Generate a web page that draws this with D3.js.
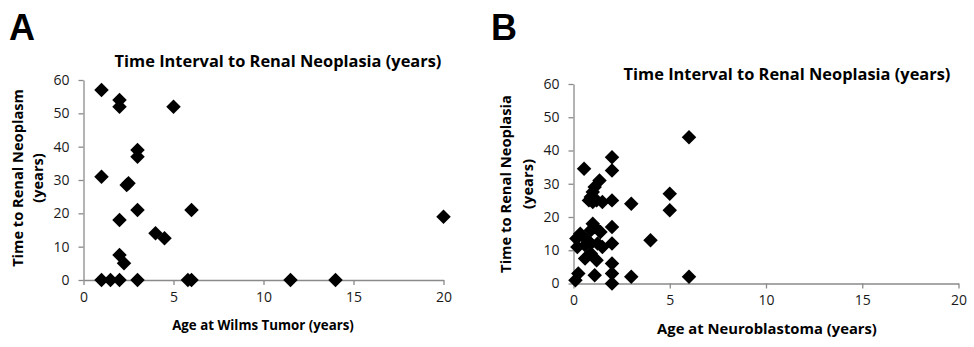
<!DOCTYPE html>
<html><head><meta charset="utf-8">
<script src="https://cdn.jsdelivr.net/npm/d3@7"></script>
<style>
body{margin:0;background:#fff;}
svg{display:block;}
text{font-family:"Open Sans", Lato, sans-serif;}
</style></head>
<body><svg id="c" width="974" height="347"></svg>
<script>
// Panel A: age at Wilms tumor (x) vs time to renal neoplasm (y)
const wilmsAge  = [1, 2, 2, 5, 3, 3, 1, 2.5, 2.4, 3, 6, 20, 2, 4, 4.5, 2, 2.25, 1, 1.5, 2, 3, 5.8, 6, 11.5, 14];
const wilmsTime = [57, 54, 52, 52, 39, 37, 31, 29, 28.5, 21, 21, 19, 18, 14, 12.5, 7.5, 5, 0, 0, 0, 0, 0, 0, 0, 0];
// Panel B: age at neuroblastoma (x) vs time to renal neoplasia (y)
const nbAge  = [0.1, 0.25, 1.1, 2, 2, 3, 6, 0.6, 1.2, 0.9, 2, 0.15, 0.2, 0.6, 0.7, 0.9, 1.25, 1.5, 2, 4, 0.35, 1.4, 1, 1.1, 0.9, 2, 0.8, 1.0, 1.2, 1.5, 2, 3, 0.9, 1.0, 1.1, 1.35, 5, 5, 0.55, 2, 2, 6];
const nbTime = [1, 3, 2.5, 3, 0, 2, 2, 7.5, 7, 9, 6, 13.5, 11, 11.5, 13, 12, 12, 11, 12, 13, 15, 15.5, 18, 17, 16, 17, 25, 24.5, 25, 24.5, 25, 24, 26, 27.5, 29, 31, 27, 22, 34.5, 34, 38, 44];
const xTicks = [0, 5, 10, 15, 20];
const yTicks = [0, 10, 20, 30, 40, 50, 60];
const titleText = "Time Interval to Renal Neoplasia (years)";

const svg = d3.select("#c");
const axisColor = "#8a8a8a";

function fit(sel, fs, target) {
  sel.attr("font-size", fs);
  const w = sel.node().getComputedTextLength();
  const nf = fs * target / w;
  sel.attr("font-size", nf);
  return nf;
}

function panel(cfg) {
  const x = d3.scaleLinear().domain([0, 20]).range([cfg.x0, cfg.x1]);
  const y = d3.scaleLinear().domain([0, 60]).range([cfg.y0, cfg.y1]);
  const g = svg.append("g");
  const ya = g.append("g").attr("transform", `translate(${cfg.x0},0)`)
    .call(d3.axisLeft(y).tickValues(yTicks).tickSize(5).tickSizeOuter(0).tickPadding(9));
  const xa = g.append("g").attr("transform", `translate(0,${cfg.y0})`)
    .call(d3.axisBottom(x).tickValues(xTicks).tickSize(5).tickSizeOuter(0).tickPadding(7));
  [ya, xa].forEach(a => {
    a.selectAll("path,line").attr("stroke", axisColor).attr("stroke-width", 1.3);
    a.selectAll("text").attr("font-size", 14).attr("fill", "#1a1a1a").style("font-family", "'Open Sans', sans-serif");
  });
  const sym = d3.symbol(d3.symbolSquare, 105);
  g.append("g").selectAll("path").data(cfg.ax.map((v, i) => [v, cfg.ay[i]])).join("path")
    .attr("d", sym).attr("fill", "#000")
    .attr("transform", d => `translate(${x(d[0])},${y(d[1])}) rotate(45)`);
  const t = g.append("text").attr("x", cfg.tx).attr("y", cfg.ty).attr("text-anchor", "middle")
    .attr("font-weight", "bold").attr("fill", "#000").text(titleText);
  fit(t, 15.5, 327);
  const xl = g.append("text").attr("x", cfg.xlx).attr("y", cfg.xly).attr("text-anchor", "middle")
    .attr("font-weight", "bold").attr("fill", "#000").text(cfg.xlabel);
  fit(xl, 14, cfg.xlw);
  const yl = g.append("text").attr("transform", `translate(0,${cfg.ylc}) rotate(-90)`)
    .attr("text-anchor", "middle").attr("font-weight", "bold").attr("fill", "#000");
  const s1 = yl.append("tspan").attr("x", 0).attr("y", cfg.yl1).text(cfg.ylabel);
  yl.append("tspan").attr("x", 0).attr("y", cfg.yl2).text("(years)");
  yl.attr("font-size", 14);
  const w1 = s1.node().getComputedTextLength();
  yl.attr("font-size", 14 * 178 / w1);
  g.append("text").attr("x", cfg.lx).attr("y", 40).attr("font-size", 36).attr("font-weight", "bold")
    .style("font-family", "'Liberation Sans', Arial, sans-serif").text(cfg.letter);
}

panel({x0: 83.5, x1: 443.5, y0: 280, y1: 80, ax: wilmsAge, ay: wilmsTime,
  tx: 278, ty: 67, xlabel: "Age at Wilms Tumor (years)", xlx: 263, xly: 330, xlw: 182,
  ylabel: "Time to Renal Neoplasm", ylc: 178, yl1: 22.5, yl2: 43, letter: "A", lx: 9});
panel({x0: 573.5, x1: 958.5, y0: 283.5, y1: 84, ax: nbAge, ay: nbTime,
  tx: 787, ty: 79.5, xlabel: "Age at Neuroblastoma (years)", xlx: 767, xly: 334, xlw: 220,
  ylabel: "Time to Renal Neoplasia", ylc: 184, yl1: 511, yl2: 533, letter: "B", lx: 491});
</script></body></html>
